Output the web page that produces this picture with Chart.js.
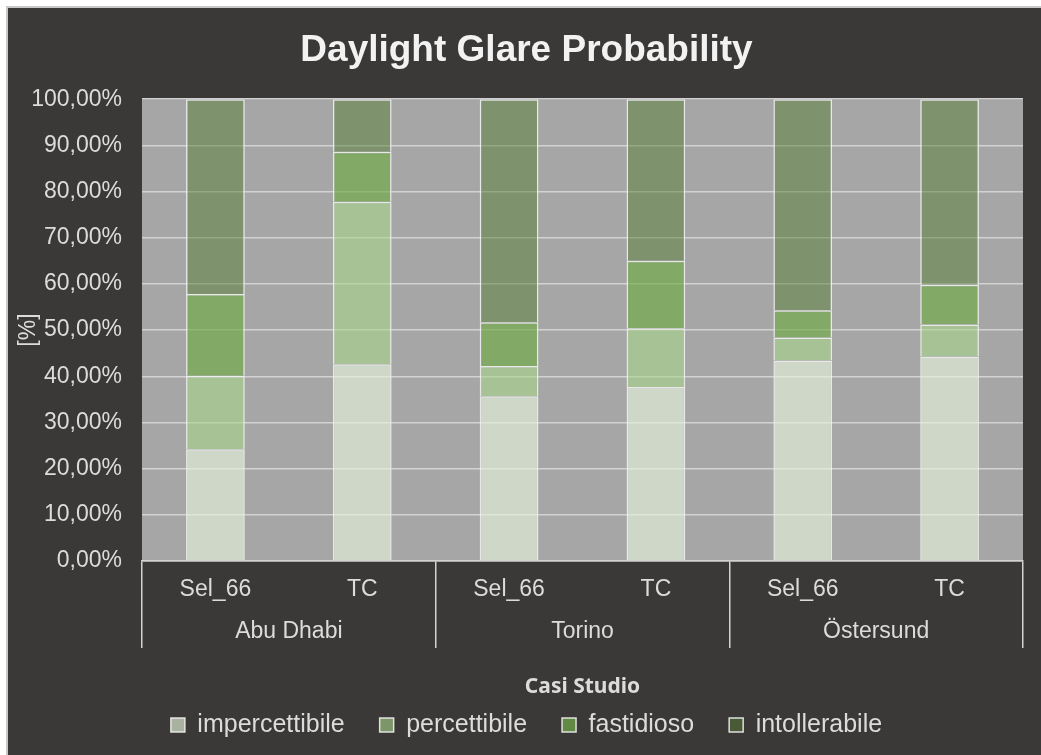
<!doctype html>
<html lang="it">

<head>
    <meta charset="utf-8">
    <title>Daylight Glare Probability</title>
    <script src="https://cdn.jsdelivr.net/npm/chart.js"></script>
    <style>
        body { margin: 0; background: #fff; }
        #wrap {
            position: absolute; left: 6px; top: 6px;
            width: 1033px; height: 747px;
            border-left: 2px solid #c8c8c8; border-top: 2px solid #c8c8c8;
            background: #3b3937;
        }
    </style>
</head>

<body>
    <div id="wrap"><canvas id="dgpChart"></canvas></div>

    <script>
        // dati (percentuali per segmento)
        const categories = ['Sel_66', 'TC', 'Sel_66', 'TC', 'Sel_66', 'TC'];
        const groups = ['Abu Dhabi', 'Torino', 'Östersund'];
        const impercettibile = [24.2, 42.6, 35.7, 37.7, 43.4, 44.3];
        const percettibile = [15.9, 35.2, 6.5, 12.7, 5.0, 6.9];
        const fastidioso = [17.7, 10.8, 9.5, 14.6, 5.9, 8.6];
        const intollerabile = [42.2, 11.4, 48.3, 35.0, 45.7, 40.2];

        const txt = '#dcdcdc';
        const gridCol = '#d2d2d2';
        const font = 'Liberation Sans, Arial, sans-serif';

        // sfondo grigio dell'area del grafico
        const plotBg = {
            id: 'plotBg',
            beforeDraw(chart) {
                const a = chart.chartArea;
                const ctx = chart.ctx;
                ctx.save();
                ctx.fillStyle = '#a6a6a6';
                ctx.fillRect(a.left, a.top, a.right - a.left, a.bottom - a.top);
                ctx.restore();
            }
        };

        const bar = (label, data, color) => ({
            label: label,
            data: data,
            backgroundColor: color,
            borderColor: 'rgba(240,240,240,0.9)',
            borderWidth: 1.5,
            categoryPercentage: 1,
            barPercentage: 0.4
        });

        new Chart(document.getElementById('dgpChart'), {
            type: 'bar',
            data: {
                labels: categories,
                datasets: [
                    bar('impercettibile', impercettibile, 'rgba(229,243,218,0.65)'),
                    bar('percettibile', percettibile, 'rgba(169,214,138,0.6)'),
                    bar('fastidioso', fastidioso, 'rgba(115,173,76,0.7)'),
                    bar('intollerabile', intollerabile, 'rgba(86,126,54,0.5)')
                ]
            },
            options: {
                responsive: true,
                maintainAspectRatio: false,
                animation: false,
                layout: { padding: { left: 22, right: 18, bottom: 7.5 } },
                plugins: {
                    title: {
                        display: true,
                        text: 'Daylight Glare Probability',
                        color: '#f2f2f2',
                        font: { family: font, size: 37, weight: 'bold' },
                        padding: { top: 20.5, bottom: 26.3 }
                    },
                    legend: {
                        position: 'bottom',
                        labels: {
                            color: txt,
                            font: { family: font, size: 25 },
                            boxWidth: 14,
                            boxHeight: 14,
                            padding: 35
                        }
                    },
                    tooltip: { enabled: false }
                },
                scales: {
                    y: {
                        stacked: true,
                        min: 0,
                        max: 100,
                        ticks: {
                            stepSize: 10,
                            color: txt,
                            font: { family: font, size: 23 },
                            padding: 20,
                            callback: v => v.toFixed(2).replace('.', ',') + '%'
                        },
                        grid: { color: gridCol, lineWidth: 1.5, drawTicks: false },
                        border: { display: false },
                        title: {
                            display: true,
                            text: '[%]',
                            color: txt,
                            font: { family: font, size: 23 },
                            padding: -14.8
                        },
                        afterFit: s => { s.width = 112; }
                    },
                    x: {
                        stacked: true,
                        ticks: {
                            color: txt,
                            font: { family: font, size: 23 },
                            padding: -28.8,
                            maxRotation: 0
                        },
                        grid: {
                            offset: true,
                            drawOnChartArea: false,
                            tickLength: 44,
                            lineWidth: 1.5,
                            color: c => (c.index === undefined || c.index % 2 === 0) ? gridCol : 'transparent'
                        },
                        border: { display: true, color: gridCol, width: 1.5 },
                        afterFit: s => { s.height = 44; }
                    },
                    x2: {
                        type: 'category',
                        position: 'bottom',
                        labels: groups,
                        offset: true,
                        ticks: {
                            color: txt,
                            font: { family: font, size: 23 },
                            padding: -29.8,
                            maxRotation: 0
                        },
                        grid: {
                            offset: true,
                            drawOnChartArea: false,
                            tickLength: 43,
                            lineWidth: 1.5,
                            color: gridCol
                        },
                        border: { display: false },
                        title: {
                            display: true,
                            text: 'Casi Studio',
                            color: txt,
                            font: { family: 'Noto Sans, sans-serif', size: 21, weight: 'bold' },
                            padding: { top: 0, bottom: -22 }
                        },
                        afterFit: s => { s.height = 72.5; }
                    }
                }
            },
            plugins: [plotBg]
        });
    </script>
</body>

</html>
